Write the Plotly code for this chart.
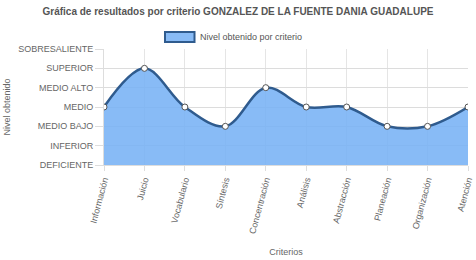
import plotly.graph_objects as go

criterios = ["Información", "Juicio", "Vocabulario", "Síntesis", "Concentración",
             "Análisis", "Abstracción", "Planeación", "Organización", "Atención"]
niveles = [3, 5, 3, 2, 4, 3, 3, 2, 2, 3]
nivel_labels = ["DEFICIENTE", "INFERIOR", "MEDIO BAJO", "MEDIO", "MEDIO ALTO",
                "SUPERIOR", "SOBRESALIENTE"]
serie = "Nivel obtenido por criterio"

W, H = 476, 260
L, R, T, B = 104, 2, 49, 95
fillc = "rgba(120,178,245,0.88)"
linec = "#2f5b8e"

fig = go.Figure()
fig.add_trace(go.Scatter(
    x=criterios, y=niveles, mode="lines+markers",
    name=serie, showlegend=False,
    line=dict(color=linec, width=2.5, shape="spline", smoothing=1),
    fill="tozeroy", fillcolor=fillc,
    marker=dict(size=6, color="white", line=dict(color="#555", width=1)),
))

font = "Liberation Sans, Arial, sans-serif"
pw = W - L - R
ph = H - T - B
def px_x(p):
    return (p - L) / pw
def px_y(p):
    return (H - B - p) / ph

fig.add_shape(type="rect", xref="paper", yref="paper",
              x0=px_x(166), x1=px_x(196), y0=px_y(42), y1=px_y(32),
              fillcolor=fillc, line=dict(color=linec, width=2))
fig.add_annotation(text=serie, xref="paper", yref="paper",
                   x=px_x(200), y=px_y(37), xanchor="left", yanchor="middle",
                   showarrow=False, font=dict(size=9, color="#555", family=font))

fig.update_layout(
    width=W, height=H,
    margin=dict(l=L, r=R, t=T, b=B),
    paper_bgcolor="white", plot_bgcolor="white",
    font=dict(family=font, size=9, color="#666"),
    title=dict(text="<b>Gráfica de resultados por criterio GONZALEZ DE LA FUENTE DANIA GUADALUPE</b>",
               x=0.5, xanchor="center", y=0.955, yanchor="middle",
               font=dict(size=10, color="#555", family=font)),
    showlegend=False,
    xaxis=dict(type="category", range=[0, len(criterios) - 1], tickangle=-75,
               showgrid=True, gridcolor="#e5e5e5", ticks="outside", ticklen=5,
               tickcolor="#ddd", linecolor="#ddd", showline=True,
               tickfont=dict(size=9, color="#666"),
               title=dict(text="Criterios", font=dict(size=9, color="#666"), standoff=14)),
    yaxis=dict(range=[0, 6], tickvals=list(range(7)), ticktext=nivel_labels,
               showgrid=True, gridcolor="#dcdcdc", ticks="outside", ticklen=8,
               tickcolor="#ddd", zeroline=False, showline=True, linecolor="#ddd",
               tickfont=dict(size=9, color="#666"),
               title=dict(text="Nivel obtenido", font=dict(size=9, color="#666"), standoff=6)),
)
fig.write_html("out.html")
